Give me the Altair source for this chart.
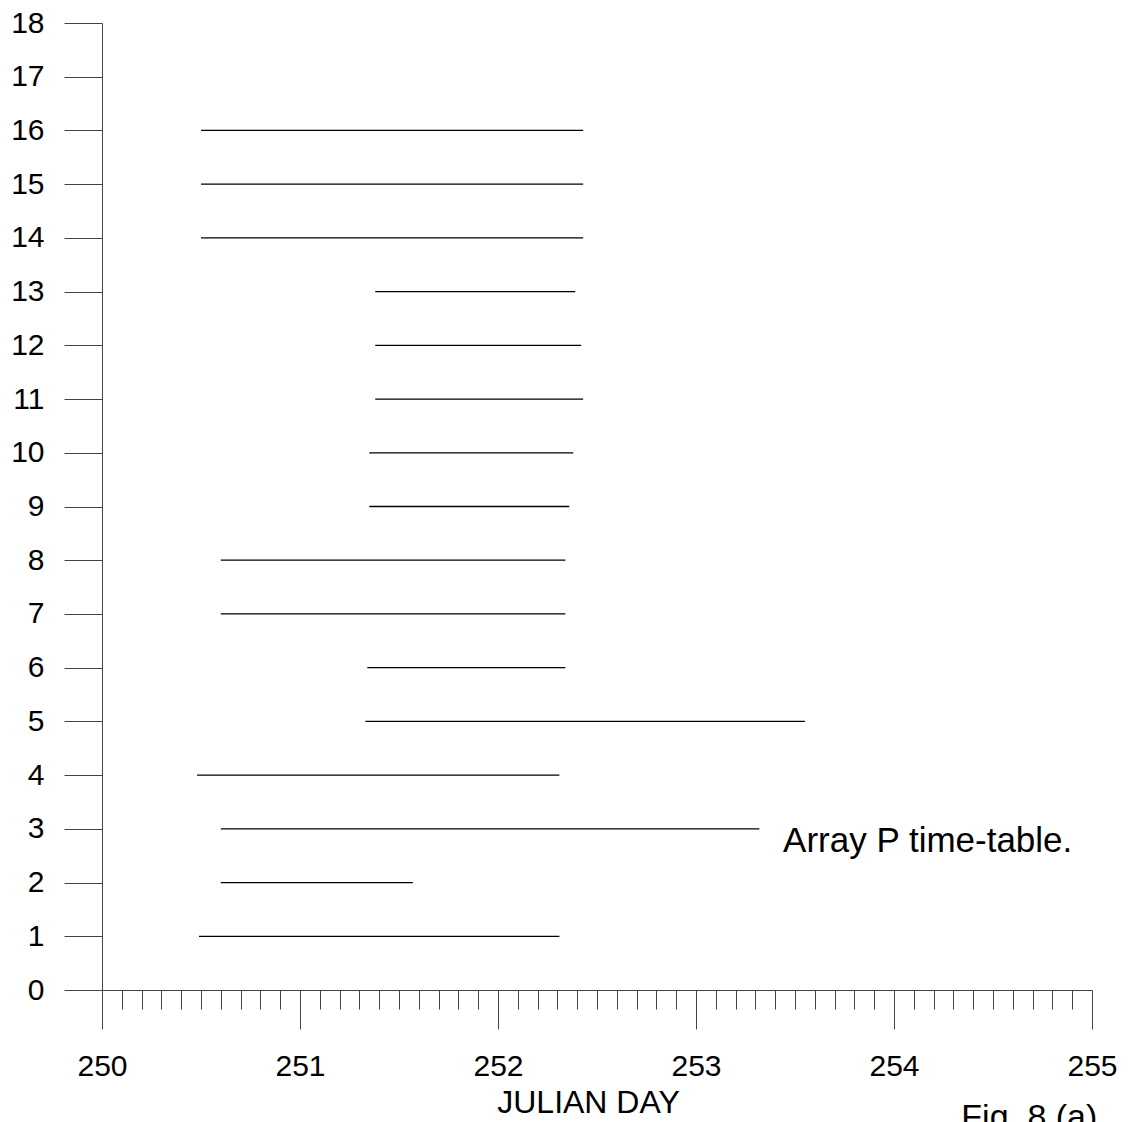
import altair as alt
import pandas as pd

# Array P time-table (Julian day spans per instrument row)
rows = list(range(1, 17))
starts = [250.49, 250.60, 250.60, 250.48, 251.33, 251.34, 250.60, 250.60,
          251.35, 251.35, 251.38, 251.38, 251.38, 250.50, 250.50, 250.50]
ends = [252.31, 251.57, 253.32, 252.31, 253.55, 252.34, 252.34, 252.34,
        252.36, 252.38, 252.43, 252.42, 252.39, 252.43, 252.43, 252.43]

x_tick_values = [round(250 + 0.1 * i, 1) for i in range(51)]
y_tick_values = list(range(0, 19))

annot_text = ["Array P time-table."]
annot_x = [253.44]
annot_y = [2.56]

fig_text = ["Fig. 8 (a)"]
fig_x = [254.34]
fig_y = [-2.56]

FONT = "Liberation Sans"

df = pd.DataFrame({"row": rows, "start": starts, "end": ends})
df_annot = pd.DataFrame({"t": annot_text, "x": annot_x, "y": annot_y})
df_fig = pd.DataFrame({"t": fig_text, "x": fig_x, "y": fig_y})

is_major = "abs(datum.value - round(datum.value)) < 0.001"

xscale = alt.Scale(domain=[250, 255], nice=False, zero=False)
yscale = alt.Scale(domain=[0, 18], nice=False, zero=True)

xaxis = alt.Axis(
    values=x_tick_values,
    labelExpr=f"{is_major} ? format(datum.value, 'd') : ''",
    tickSize={"condition": {"test": is_major, "value": 39}, "value": 19},
    tickColor="#444444",
    tickWidth=1,
    domainColor="#444444",
    domainWidth=1,
    labelFont=FONT,
    labelFontSize=30,
    labelColor="black",
    labelPadding=22,
    labelFlush=False,
    labelOverlap=False,
    grid=False,
    title="JULIAN DAY",
    titleFont=FONT,
    titleFontSize=32,
    titleFontWeight="normal",
    titleColor="black",
    titleBaseline="alphabetic",
    titleAlign="center",
    titleX=486,
    titleY=122,
)

yaxis = alt.Axis(
    values=y_tick_values,
    format="d",
    tickSize=38,
    tickColor="#444444",
    tickWidth=1,
    domainColor="#444444",
    domainWidth=1,
    labelFont=FONT,
    labelFontSize=30,
    labelColor="black",
    labelPadding=20,
    labelFlush=False,
    labelOverlap=False,
    grid=False,
    title=None,
)

rules = alt.Chart(df).mark_rule(color="black", strokeWidth=1.3).encode(
    x=alt.X("start:Q", scale=xscale, axis=xaxis),
    x2="end:Q",
    y=alt.Y("row:Q", scale=yscale, axis=yaxis),
)

annot = alt.Chart(df_annot).mark_text(
    font=FONT, fontSize=35, align="left", baseline="alphabetic", color="black"
).encode(
    x=alt.X("x:Q", scale=xscale, axis=xaxis),
    y=alt.Y("y:Q", scale=yscale, axis=yaxis),
    text="t:N",
)

fig = alt.Chart(df_fig).mark_text(
    font=FONT, fontSize=34, align="left", baseline="alphabetic", color="black"
).encode(
    x=alt.X("x:Q", scale=xscale, axis=xaxis),
    y=alt.Y("y:Q", scale=yscale, axis=yaxis),
    text="t:N",
)

chart = alt.layer(rules, annot, fig).properties(
    width=990,
    height=967,
    autosize="none",
    padding={"left": 102, "top": 23, "right": 38, "bottom": 132},
    background="white",
).configure_view(stroke=None)

chart.save("out.html", embed_options={"renderer": "svg", "actions": False})
